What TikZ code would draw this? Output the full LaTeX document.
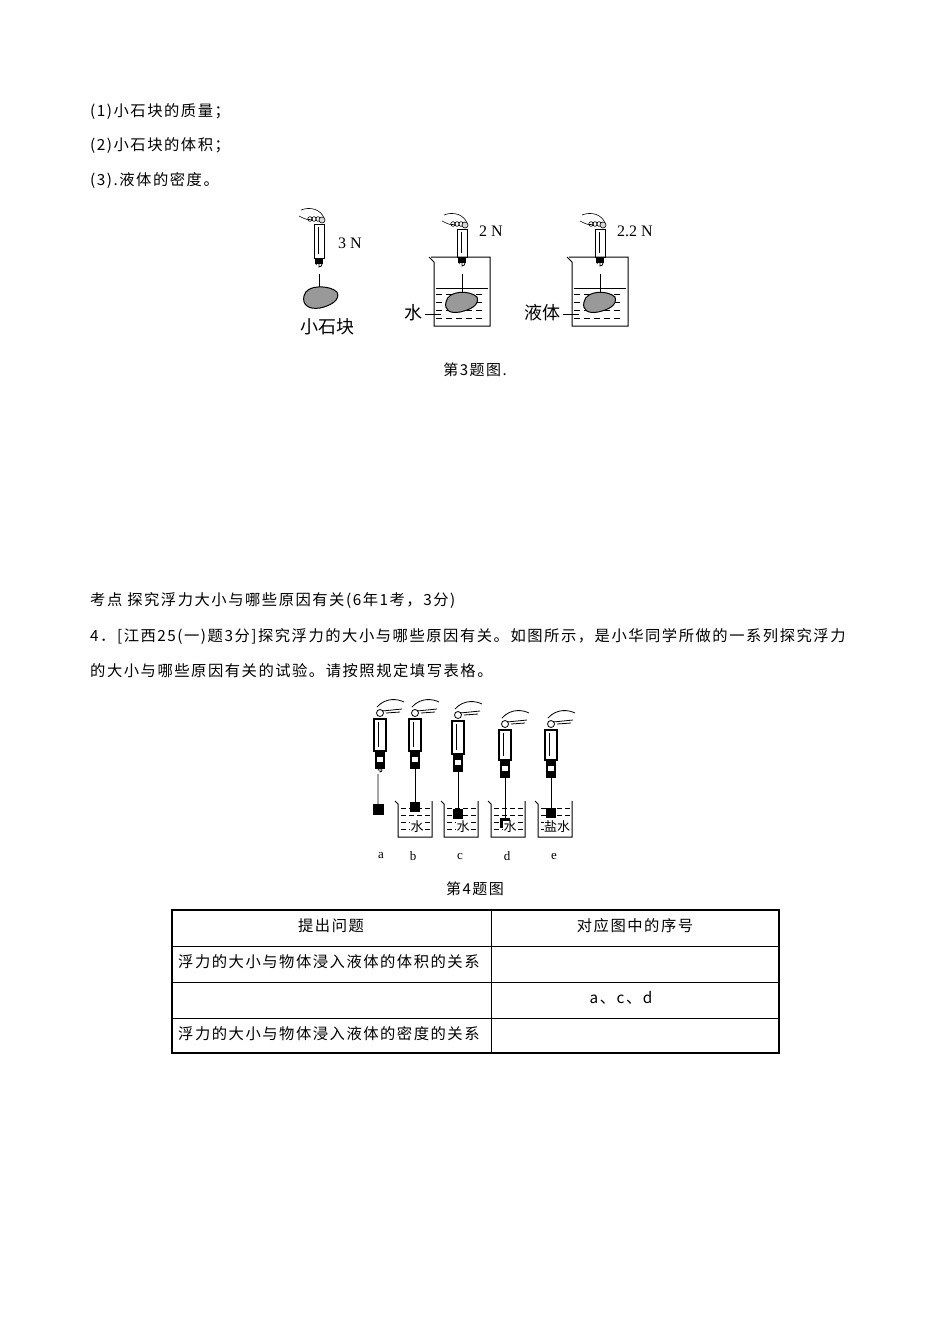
\documentclass[tikz,border=0pt]{standalone}
\usepackage{fontspec}
\setmainfont{Liberation Serif}
\newfontfamily\cjk[LetterSpace=10]{Noto Sans CJK SC}
\newfontfamily\cjkplain{Noto Sans CJK SC}
\begin{document}
\begin{tikzpicture}[x=1pt,y=-1pt,
  txt/.style={anchor=west,inner sep=0,font=\cjk\fontsize{15.3}{17}\selectfont},
  ctxt/.style={inner sep=0,font=\cjk\fontsize{15}{17}\selectfont},
  lbl/.style={inner sep=0,font=\fontsize{16}{18}\selectfont},
  stone/.style={fill=black!40,draw=black,line width=1pt},
  beaker/.style={draw=black,line width=1pt},
  cell/.style={inner sep=0,font=\cjk\fontsize{15.3}{17}\selectfont}]
\useasboundingbox (0,0) rectangle (950,1344);
\fill[white] (0,0) rectangle (950,1344);
% text
\node[txt] (t1) at (90,112) {(1)小石块的质量；};
\node[txt] (t2) at (90,146) {(2)小石块的体积；};
\node[txt] (t3) at (90,180) {(3).液体的密度。};
\node[ctxt] (c3) at (475,370) {第3题图.};
\node[txt] (k) at (90,601) {考点\ 探究浮力大小与哪些原因有关(6年1考，3分)};
\node[txt] (q1) at (90,636) {4．[江西25(一)题3分]探究浮力的大小与哪些原因有关。如图所示，是小华同学所做的一系列探究浮力};
\node[txt] (q2) at (90,671) {的大小与哪些原因有关的试验。请按照规定填写表格。};
\node[ctxt] (c4) at (475,889) {第4题图};
% ---- figure 3
\newcommand\myscale[3]{% x, top, bottom of body
  \draw[line width=0.6pt] (#1-18,#2-14) .. controls (#1-8,#2-18) and (#1+2,#2-14) .. (#1+5,#2-6);
  \draw[line width=0.6pt] (#1-20,#2-8) .. controls (#1-12,#2-4) .. (#1-6,#2-5);
  \foreach \k in {-9,-5,-1}{\draw[line width=0.6pt] (#1+\k,#2-5) circle (2.3);}
  \draw[fill=black!15,line width=0.6pt] (#1+3,#2-4) circle (3);
  \draw[line width=1pt] (#1-5,#2) rectangle (#1+5,#2+#3);
  \draw[line width=0.6pt] (#1-1,#2+3) -- (#1-1,#2+#3-4);
  \fill (#1-4,#2+#3) rectangle (#1+4,#2+#3+6);
  \draw[line width=0.8pt] (#1,#2+#3+6) -- (#1,#2+#3+9) arc (90:-200:3);
}
\myscale{319}{224}{34}
\draw[line width=0.8pt] (319,274) -- (319,288);
\draw[stone] (304,296) .. controls (306,284) and (330,285) .. (337,292) .. controls (341,300) and (330,306) .. (320,308) .. controls (308,310) and (302,304) .. (304,296) -- cycle;
\node[lbl] (f1) at (350,243) {3 N};
\node[ctxt,font=\cjkplain\fontsize{18}{20}\selectfont] (s1) at (327,327) {小石块};
\foreach \bx/\sx/\lab/\lx/\val in {433/462/水/418/2 N,571/600/液体/538/2.2 N}{
  \draw[line width=0.8pt] (\sx,274) -- (\sx,292);
  \foreach \yy in {294,302,310,318}{\foreach \xx in {3,13,...,48}{\draw[line width=0.6pt] (\bx+\xx,\yy) -- ++(6,0);}}
  \draw[line width=0.6pt] (\bx+3,288) -- (\bx+55,288);
  \draw[beaker] (\bx-4,257) -- (\bx+1,262) -- (\bx+1,326) -- (\bx+57,326) -- (\bx+57,257) -- (\bx-2,257);
  \draw[stone] (\sx-16,302) .. controls (\sx-14,290) and (\sx+8,290) .. (\sx+15,297) .. controls (\sx+18,305) and (\sx+8,310) .. (\sx-2,312) .. controls (\sx-12,314) and (\sx-18,310) .. (\sx-16,302) -- cycle;
  \myscale{\sx}{229}{28}
  \node[lbl,anchor=west] at (\sx+17,231) {\val};
  \node[ctxt,anchor=east,font=\cjkplain\fontsize{18}{20}\selectfont] at (\bx-10,313) {\lab};
  \draw[line width=0.6pt] (\bx-8,314) -- (\bx+8,314);
}
% ---- figure 4
\newcommand\smallscale[3]{% x top bottom
  \draw[line width=0.8pt] (#1-3,#2-12) .. controls (#1+6,#2-22) and (#1+18,#2-20) .. (#1+24,#2-17);
  \draw[line width=0.8pt] (#1+2,#2-8) -- (#1+22,#2-10);
  \draw[line width=0.8pt] (#1+6,#2-6) -- (#1+20,#2-7);
  \draw[line width=0.8pt] (#1,#2-6) circle (3.5);
  \draw[line width=1.1pt] (#1-6,#2) rectangle (#1+6,#2+#3);
  \draw[line width=0.5pt] (#1-2,#2+3) -- (#1-2,#2+#3-4);
  \fill (#1-5,#2+#3) rectangle (#1+5,#2+#3+18);
  \fill[white] (#1-3,#2+#3+6) rectangle (#1+3,#2+#3+11);
}
\smallscale{380}{719}{32}
\draw[line width=0.7pt] (380,769) -- (380,772) arc (90:-200:2) (378,774) -- (378,804);
\fill (373,804) rectangle (384,815);
\foreach \bx/\sx/\st/\sl/\sq/\w in {395/415/719/32/802/水,441/458/721/33/809/水,488/505/730/30/818/水,535/551/730/30/808/盐水}{
  \draw[beaker] (\bx,801) -- (\bx+3,804) -- (\bx+3,837) -- (\bx+37,837) -- (\bx+37,801);
  \foreach \yy in {808,815,822,829}{\foreach \xx in {6,14,...,32}{\draw[line width=0.5pt] (\bx+\xx,\yy) -- ++(5,0);}}
  \smallscale{\sx}{\st}{\sl}
  \draw[line width=0.7pt] (\sx,\st+\sl+18) -- (\sx,\sq);
  \fill (\sx-5,\sq) rectangle (\sx+5,\sq+10);
  \node[inner sep=0.5,fill=white,font=\cjkplain\fontsize{13}{14}\selectfont] at (\bx+22,827) {\w};
}
\foreach \lx/\l in {381/a,413/b,460/c,507/d,554/e}{\node[lbl,font=\fontsize{13}{15}\selectfont] at (\lx,856) {\l};}
% ---- table
\draw[line width=1.3pt] (172,910) rectangle (779,1053);
\draw[line width=0.6pt] (491,910) -- (491,1053);
\foreach \yy in {946,982,1018}{\draw[line width=0.6pt] (172,\yy) -- (779,\yy);}
\node[cell] (h1) at (331,926) {提出问题};
\node[cell] (h2) at (635,926) {对应图中的序号};
\node[cell,anchor=west] (r1) at (178,962) {浮力的大小与物体浸入液体的体积的关系};
\node[cell] (r2) at (621,998) {a、c、d};
\node[cell,anchor=west] (r3) at (178,1034) {浮力的大小与物体浸入液体的密度的关系};
\end{tikzpicture}
\end{document}
